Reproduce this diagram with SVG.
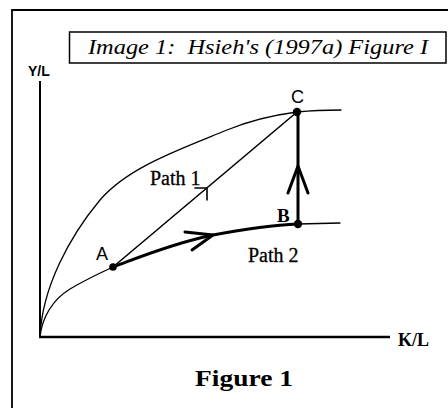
<svg xmlns="http://www.w3.org/2000/svg" width="448" height="408" viewBox="0 0 448 408">
<style>
.thin{fill:none;stroke:#000;stroke-width:1.3;stroke-linecap:round;stroke-linejoin:round}
.mid{fill:none;stroke:#000;stroke-width:1.6;stroke-linecap:round;stroke-linejoin:round}
.thick{fill:none;stroke:#000;stroke-width:3;stroke-linecap:round;stroke-linejoin:round}
.serif{font-family:"Liberation Serif","Times New Roman",serif;fill:#000}
.sans{font-family:"Liberation Sans",Arial,sans-serif;fill:#000}
.path-label{font-size:20px;stroke:#000;stroke-width:0.3}
.dot{fill:#000}
</style>
<rect width="448" height="408" fill="#fff"/>
<g id="frame">
<path d="M12,408 L12,10 L448,10" fill="none" stroke="#000" stroke-width="1.8"/>
</g>
<g id="title">
<rect x="69.5" y="32" width="376.5" height="31" fill="#fff" stroke="#000" stroke-width="1.5"/>
<text class="serif" x="88" y="54" font-size="22" font-style="italic" textLength="340" lengthAdjust="spacingAndGlyphs" xml:space="preserve">Image 1:  Hsieh's (1997a) Figure I</text>
</g>
<g id="axes">
<line x1="40" y1="81" x2="40" y2="338" stroke="#000" stroke-width="2"/>
<line x1="39" y1="337" x2="390" y2="337" stroke="#000" stroke-width="2.6"/>
<text class="sans" x="28" y="76" font-size="14" font-weight="bold">Y/L</text>
<text class="serif" x="398" y="346" font-size="18" font-weight="bold">K/L</text>
</g>
<g id="connectors">
<path class="thin" d="M40,337 C42,287 70,236 100,200 C128,167 182,148.5 227,130 C250,120.5 274,115 297,112 C312,110.5 327,110 341,110"/>
<path class="thin" d="M40,337 C42,318 52,300 70,289 C85,280 100,273 113,267"/>
<path class="thick" d="M113,267 C135,259 170,244 213,235 C245,229 275,225 298,224"/>
<path class="thick" d="M185,232 L213,235 L192,250"/>
<line class="thin" x1="298" y1="224" x2="340" y2="223"/>
<line class="mid" x1="113" y1="267" x2="297" y2="112"/>
<path class="mid" d="M195,188 L207,188 L207,200"/>
<line class="thick" x1="298" y1="224" x2="298" y2="112"/>
<path class="thick" d="M288,193 L298,166 L308,193"/>
</g>
<g id="node-A">
<circle class="dot" cx="113" cy="267" r="3.8"/>
<text class="sans" x="96" y="260" font-size="18">A</text>
</g>
<g id="node-B">
<circle class="dot" cx="298" cy="224" r="4.2"/>
<text class="serif" x="277" y="222" font-size="19" font-weight="bold">B</text>
</g>
<g id="node-C">
<circle class="dot" cx="297" cy="112" r="4.2"/>
<text class="sans" x="291" y="103" font-size="18">C</text>
</g>
<g id="labels">
<text class="serif path-label" x="150" y="185">Path 1</text>
<text class="serif path-label" x="248" y="262">Path 2</text>
<text class="serif" x="195" y="386" font-size="24" font-weight="bold" textLength="98" lengthAdjust="spacingAndGlyphs">Figure 1</text>
</g>
</svg>
